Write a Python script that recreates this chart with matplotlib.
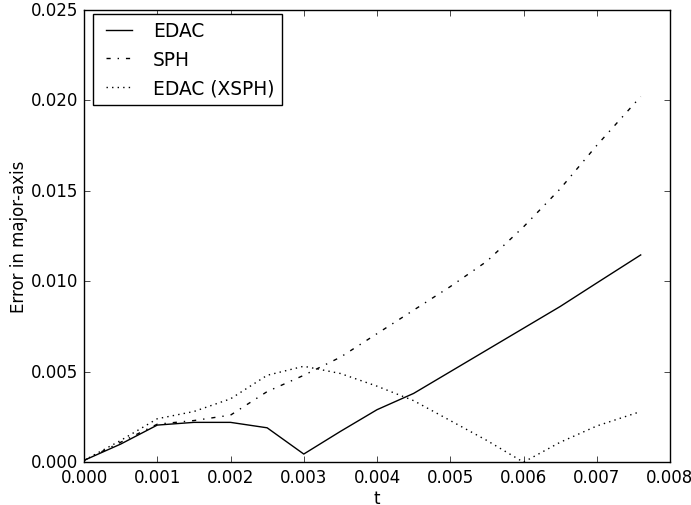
import matplotlib
matplotlib.use("Agg")
import matplotlib.pyplot as plt

plt.style.use('classic')
plt.rcParams['font.family'] = ['DejaVu Sans']

t = [0.0, 0.0005, 0.001, 0.0015, 0.002, 0.0025, 0.003, 0.0035, 0.004,
     0.0045, 0.005, 0.0055, 0.006, 0.0065, 0.007, 0.0076]
edac = [0.0001, 0.0010, 0.00205, 0.0022, 0.0022, 0.0019, 0.00045, 0.0017,
        0.0029, 0.0038, 0.0050, 0.0062, 0.0074, 0.0086, 0.0099, 0.01145]
sph = [0.0001, 0.0011, 0.0021, 0.0023, 0.0026, 0.0039, 0.0048, 0.0058,
       0.0071, 0.0084, 0.0097, 0.0111, 0.0130, 0.0151, 0.0175, 0.0202]
edac_xsph = [0.0001, 0.0012, 0.0024, 0.0028, 0.0035, 0.0048, 0.0053, 0.0049,
             0.0042, 0.0034, 0.0023, 0.0012, 0.0000, 0.0011, 0.0020, 0.0028]

fig = plt.figure(figsize=(6.91, 5.06), dpi=100, facecolor='white')
ax = fig.add_axes([0.1216, 0.0846, 0.848, 0.8943])
ax.plot(t, edac, 'k-', label='EDAC')
ax.plot(t, sph, 'k-.', label='SPH')
ax.plot(t, edac_xsph, 'k:', label='EDAC (XSPH)')
ax.set_xlim(0, 0.008)
ax.set_ylim(0, 0.025)
ax.set_xlabel('t', labelpad=2)
ax.set_ylabel('Error in major-axis', labelpad=2)
ax.legend(loc='upper left', fontsize=13.4, bbox_to_anchor=(0, 1.011))
fig.savefig('out.png', dpi=100, facecolor='white')
